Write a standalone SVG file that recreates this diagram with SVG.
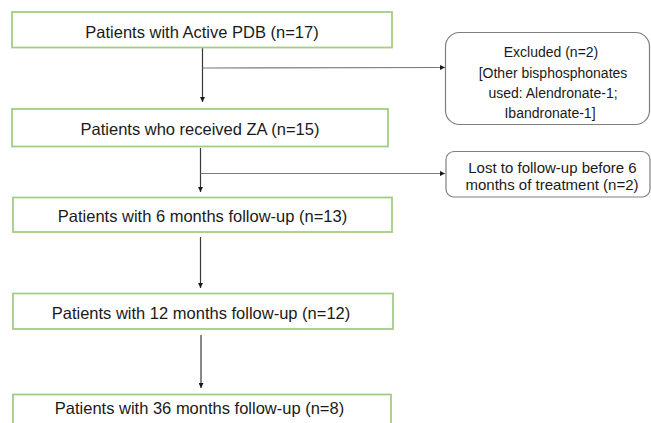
<svg xmlns="http://www.w3.org/2000/svg" width="651" height="423" viewBox="0 0 651 423">
<style>
.box{fill:#ffffff;stroke:#a3cc85;stroke-width:1.8}
.side{fill:#ffffff;stroke:#7f7f7f;stroke-width:1.2}
.t{font-family:"Liberation Sans",Arial,sans-serif;font-size:16.5px;fill:#1a1a1a;text-anchor:middle}
.s{font-family:"Liberation Sans",Arial,sans-serif;font-size:14px;fill:#1a1a1a;text-anchor:middle}
.v{stroke:#3a3a3a;stroke-width:1.2;fill:none}
.h{stroke:#7a7a7a;stroke-width:1.2;fill:none}
</style>
<defs>
<marker id="arr" viewBox="0 0 10 10" refX="10" refY="5" markerWidth="5" markerHeight="5" markerUnits="userSpaceOnUse" orient="auto">
<path d="M0,0 L10,5 L0,10 Z" fill="#1a1a1a"/>
</marker>
</defs>
<rect width="651" height="423" fill="#ffffff"/>
<g id="connectors">
<line class="v" x1="202.5" y1="48" x2="202.5" y2="102" marker-end="url(#arr)"/>
<line class="h" x1="202.5" y1="68" x2="445" y2="67.5" marker-end="url(#arr)"/>
<line class="v" x1="200.5" y1="148" x2="200.5" y2="192" marker-end="url(#arr)"/>
<line class="h" x1="200.5" y1="173.5" x2="445" y2="173.5" marker-end="url(#arr)"/>
<line class="v" x1="200.5" y1="237" x2="200.5" y2="288" marker-end="url(#arr)"/>
<line class="v" x1="201" y1="335" x2="201" y2="388" marker-end="url(#arr)"/>
</g>
<g id="n1">
<rect class="box" x="12" y="12" width="380" height="35.5"/>
<text class="t" x="202" y="38">Patients with Active PDB (n=17)</text>
</g>
<g id="n2">
<rect class="box" x="12" y="109" width="376" height="37.5"/>
<text class="t" x="200" y="135">Patients who received ZA (n=15)</text>
</g>
<g id="n3">
<rect class="box" x="13" y="197.5" width="379" height="34.5"/>
<text class="t" x="202.5" y="222">Patients with 6 months follow-up (n=13)</text>
</g>
<g id="n4">
<rect class="box" x="13" y="293.5" width="380" height="35.5"/>
<text class="t" x="201" y="318.5">Patients with 12 months follow-up (n=12)</text>
</g>
<g id="n5">
<rect class="box" x="13" y="394.5" width="378" height="40"/>
<text class="t" x="199.5" y="413.5">Patients with 36 months follow-up (n=8)</text>
</g>
<g id="excluded">
<rect class="side" x="445.5" y="32.5" width="204" height="92" rx="14" ry="14"/>
<text class="s" x="551" y="57">Excluded (n=2)</text>
<text class="s" x="553" y="77.5">[Other bisphosphonates</text>
<text class="s" x="553" y="97.5">used: Alendronate-1;</text>
<text class="s" x="550" y="117.5">Ibandronate-1]</text>
</g>
<g id="lost">
<rect class="side" x="446" y="151.5" width="204" height="45.5" rx="8" ry="8"/>
<text class="s" x="552.5" y="172.5" style="font-size:15px">Lost to follow-up before 6</text>
<text class="s" x="552" y="190" style="font-size:15px">months of treatment (n=2)</text>
</g>
</svg>
